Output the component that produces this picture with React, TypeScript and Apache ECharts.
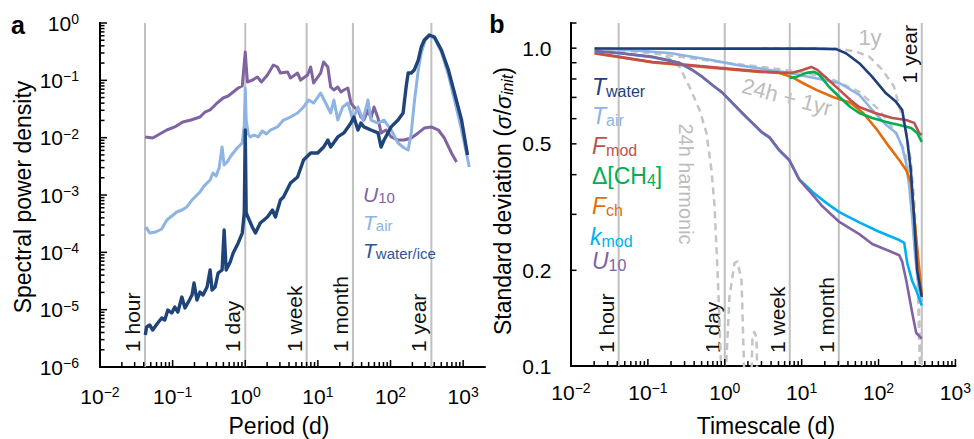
import { useEffect, useRef } from 'react';
import * as echarts from 'echarts';

const FONT = '"Liberation Sans", Arial, Helvetica, sans-serif';

// ---------- Panel a: power spectra, [period (d), spectral power density] ----------
const U10_SPECTRUM: [number, number][] = [
  [0.042, 0.0103], [0.0532, 0.00986], [0.0665, 0.0116], [0.0832, 0.0136], [0.107, 0.0154],
  [0.138, 0.0188], [0.179, 0.0203], [0.238, 0.0229], [0.279, 0.028], [0.328, 0.0304],
  [0.397, 0.0387], [0.496, 0.0492], [0.582, 0.0533], [0.682, 0.0626], [0.8, 0.0735],
  [0.909, 0.0796], [1.0, 0.312], [1.07, 0.0935], [1.25, 0.101], [1.47, 0.114], [1.67, 0.0935],
  [2.02, 0.124], [2.22, 0.151], [2.44, 0.185], [2.77, 0.171], [3.05, 0.134], [3.82, 0.14],
  [4.2, 0.11], [5.25, 0.134], [5.78, 0.101], [7.22, 0.124], [7.95, 0.171], [8.73, 0.0898],
  [10.9, 0.134], [12.0, 0.209], [13.7, 0.171], [15.0, 0.0765], [16.6, 0.0678], [18.8, 0.0765],
  [20.7, 0.0626], [22.8, 0.0678], [25.9, 0.0735], [28.5, 0.0402], [31.3, 0.0343], [35.6, 0.0304],
  [39.2, 0.0229], [43.1, 0.0203], [48.9, 0.0304], [53.8, 0.022], [59.3, 0.0343], [67.3, 0.022],
  [74.1, 0.0121], [86.9, 0.0136], [102, 0.0103], [127, 0.0091], [154, 0.0091], [193, 0.00986],
  [241, 0.0121], [292, 0.0147], [365, 0.0154], [456, 0.0136], [552, 0.00986], [691, 0.0054],
  [811, 0.00376],
];

const TAIR_SPECTRUM: [number, number][] = [
  [0.042, 2.45e-4], [0.0439, 2.66e-4], [0.0483, 2.17e-4], [0.0585, 2.26e-4], [0.0708, 2.55e-4],
  [0.0832, 3.66e-4], [0.0975, 4.3e-4], [0.114, 5.05e-4], [0.134, 5.47e-4], [0.157, 6.18e-4],
  [0.185, 8.19e-4], [0.21, 9.6e-4], [0.238, 1.13e-3], [0.271, 1.43e-3], [0.298, 1.62e-3],
  [0.328, 1.83e-3], [0.36, 2.42e-3], [0.397, 2.14e-3], [0.436, 2.96e-3], [0.48, 6.87e-3],
  [0.512, 3.34e-3], [0.563, 3.76e-3], [0.62, 4.6e-3], [0.682, 5.4e-3], [0.775, 6.6e-3],
  [0.853, 7.45e-3], [0.909, 8.07e-3], [0.969, 0.0166], [1.0, 0.0735], [1.03, 0.0203],
  [1.1, 0.0116], [1.17, 0.0103], [1.33, 0.0111], [1.51, 0.0103], [1.72, 0.0131], [1.95, 0.0116],
  [2.22, 0.0136], [2.77, 0.0154], [3.36, 0.0203], [4.2, 0.0229], [5.25, 0.0269], [6.35, 0.0343],
  [7.46, 0.0454], [8.73, 0.0402], [10.9, 0.0601], [12.8, 0.0402], [15.0, 0.0269], [16.6, 0.0454],
  [18.8, 0.0203], [22.0, 0.0343], [25.9, 0.0402], [30.3, 0.0203], [35.6, 0.0343], [41.7, 0.0203],
  [48.9, 0.0454], [53.8, 0.0203], [67.3, 0.018], [81.5, 0.0203], [102, 0.0136], [127, 8.07e-3],
  [154, 6.6e-3], [175, 6.09e-3], [193, 0.0121], [212, 0.0402], [241, 0.151], [265, 0.3],
  [301, 0.505], [343, 0.593], [402, 0.547], [502, 0.312], [628, 0.124], [760, 0.0454],
  [951, 0.0136], [1215, 3.08e-3],
];

const TWATER_SPECTRUM: [number, number][] = [
  [0.042, 3.61e-6], [0.0439, 4.98e-6], [0.0483, 5.4e-6], [0.0532, 4.42e-6], [0.0624, 5.85e-6],
  [0.0708, 7.15e-6], [0.078, 6.59e-6], [0.0859, 9.86e-6], [0.0975, 8.75e-6], [0.107, 1.11e-5],
  [0.118, 9.1e-6], [0.134, 1.66e-5], [0.148, 1.07e-5], [0.162, 1.31e-5], [0.185, 1.8e-5],
  [0.197, 2.92e-5], [0.216, 1.47e-5], [0.238, 2.03e-5], [0.262, 1.8e-5], [0.298, 2.48e-5],
  [0.328, 4.92e-5], [0.349, 2.2e-5], [0.384, 2.48e-5], [0.423, 4.36e-5], [0.48, 4.92e-5],
  [0.512, 2.45e-4], [0.546, 4.92e-5], [0.62, 6.78e-5], [0.682, 9.73e-5], [0.8, 1.46e-4],
  [0.909, 2.17e-4], [0.969, 4.85e-4], [1.0, 0.0136], [1.03, 4.85e-4], [1.25, 2.77e-4],
  [1.38, 2.17e-4], [1.61, 3.25e-4], [2.02, 4.13e-4], [2.37, 5.47e-4], [2.6, 4.13e-4],
  [3.05, 8.19e-4], [3.36, 9.23e-4], [4.2, 1.62e-3], [5.25, 2.06e-3], [6.35, 4.08e-3],
  [7.95, 5.4e-3], [9.94, 5.4e-3], [12.0, 6.87e-3], [13.7, 9.1e-3], [15.0, 6.87e-3],
  [18.8, 0.0103], [22.8, 0.0121], [28.5, 0.018], [31.3, 0.0229], [35.6, 0.0136], [39.2, 0.018],
  [43.1, 0.0154], [53.8, 0.0136], [67.3, 0.0121], [74.1, 6.87e-3], [81.5, 9.1e-3], [102, 0.0154],
  [127, 0.0203], [149, 0.0269], [164, 0.0765], [175, 0.134], [193, 0.134], [212, 0.151],
  [241, 0.226], [265, 0.381], [292, 0.505], [343, 0.618], [402, 0.57], [502, 0.338],
  [628, 0.151], [760, 0.0601], [951, 0.0203], [1150, 0.005],
];

// ---------- Panel b: normalised standard deviation, [timescale (d), sigma / sigma_init] ----------
const SD_TWATER: [number, number][] = [
  [0.0203, 0.998], [0.05, 0.998], [0.3, 0.997], [3, 0.997], [15, 0.997], [28.2, 0.993],
  [37.7, 0.964], [56.2, 0.897], [82.3, 0.814], [125, 0.721], [168, 0.679], [203, 0.639],
  [236, 0.514], [263, 0.413], [291, 0.288], [318, 0.2], [365, 0.165],
];
const SD_TAIR: [number, number][] = [
  [0.0203, 0.998], [0.043, 0.99], [0.191, 0.966], [0.634, 0.919], [1.42, 0.886], [3.81, 0.854],
  [6.92, 0.836], [12.6, 0.812], [30.9, 0.777], [56.2, 0.713], [82.8, 0.639], [126, 0.573],
  [170, 0.541], [203, 0.489], [229, 0.434], [251, 0.366], [275, 0.29], [300, 0.22],
  [330, 0.18], [365, 0.16],
];
const SD_FMOD: [number, number][] = [
  [0.0203, 0.966], [0.0429, 0.939], [0.115, 0.905], [0.32, 0.886], [0.85, 0.867], [2.82, 0.845],
  [5.13, 0.838], [7.3, 0.836], [10.3, 0.854], [13.3, 0.873], [16, 0.854], [21, 0.806],
  [31, 0.739], [43, 0.687], [56, 0.653], [90, 0.625], [151, 0.603], [229, 0.594], [291, 0.582],
  [338, 0.541], [365, 0.533],
];
const SD_CH4: [number, number][] = [
  [6.92, 0.806], [8.6, 0.812], [11.5, 0.836], [14.6, 0.842], [17, 0.824], [22.8, 0.755],
  [31, 0.702], [43, 0.653], [56, 0.625], [83, 0.603], [126, 0.586], [186, 0.573], [266, 0.561],
  [318, 0.541], [365, 0.507],
];
const SD_FCH: [number, number][] = [
  [0.0203, 0.962], [0.0429, 0.936], [0.115, 0.902], [0.32, 0.883], [0.85, 0.864], [2.82, 0.842],
  [5.13, 0.836], [7.42, 0.812], [10.3, 0.777], [15.5, 0.739], [25.5, 0.702], [43.1, 0.673],
  [63, 0.625], [96, 0.553], [138, 0.489], [186, 0.445], [229, 0.413], [266, 0.376],
  [309, 0.254], [365, 0.167],
];
const SD_KMOD: [number, number][] = [
  [0.0203, 0.978], [0.0429, 0.964], [0.115, 0.937], [0.175, 0.917], [0.258, 0.897],
  [0.381, 0.852], [0.514, 0.81], [0.692, 0.764], [0.933, 0.723], [1.26, 0.671], [1.7, 0.623],
  [2.29, 0.58], [3.08, 0.541], [3.81, 0.523], [5.13, 0.476], [6.92, 0.443], [9.34, 0.386],
  [14, 0.352], [20.9, 0.326], [30.9, 0.305], [56.2, 0.283], [100, 0.265], [186, 0.249],
  [216, 0.244], [236, 0.211], [274, 0.185], [309, 0.173], [365, 0.155],
];
const SD_U10: [number, number][] = [
  [0.0203, 0.98], [0.0429, 0.966], [0.115, 0.939], [0.175, 0.919], [0.258, 0.899],
  [0.381, 0.854], [0.514, 0.812], [0.692, 0.766], [0.933, 0.725], [1.26, 0.673], [1.7, 0.625],
  [2.29, 0.582], [3.08, 0.543], [3.81, 0.525], [5.13, 0.478], [6.92, 0.445], [9.34, 0.385],
  [14, 0.345], [18.6, 0.318], [30.9, 0.284], [56.2, 0.26], [82.8, 0.242], [138, 0.23],
  [186, 0.223], [203, 0.213], [229, 0.186], [274, 0.147], [309, 0.127], [365, 0.122],
];
const SD_ONE_YEAR: [number, number][] = [
  [3, 0.999], [15, 0.997], [30.9, 0.995], [50.5, 0.976], [75.7, 0.941], [112, 0.854],
  [159, 0.757], [186, 0.655], [226, 0.553], [263, 0.445], [291, 0.333], [309, 0.249],
  [328, 0.173], [348, 0.121], [357, 0.09],
];
const SD_DAILY_HARMONIC: [number, number][] = [
  [0.0203, 0.999], [0.043, 0.995], [0.105, 0.98], [0.165, 0.953], [0.258, 0.873],
  [0.348, 0.755], [0.47, 0.639], [0.578, 0.541], [0.671, 0.414], [0.735, 0.321], [0.804, 0.2],
  [0.853, 0.139], [0.906, 0.09], [1.02, 0.09], [1.15, 0.165], [1.34, 0.211], [1.46, 0.213],
  [1.65, 0.186], [1.7, 0.147], [1.8, 0.09], [2.22, 0.09], [2.29, 0.123], [2.43, 0.128],
  [2.58, 0.123], [2.66, 0.09],
];
const SD_DAILY_PLUS_YEAR: [number, number][] = [
  [0.0203, 0.995], [0.078, 0.973], [0.258, 0.939], [0.853, 0.905], [3.81, 0.867], [9.34, 0.842],
  [22.9, 0.806], [56.2, 0.729], [102, 0.639], [160, 0.553], [216, 0.478], [266, 0.385],
  [300, 0.268], [328, 0.161], [348, 0.09],
];

// Reference periods marked by vertical guides
const GUIDE_PERIODS = [1 / 24, 1, 7, 30.4, 365];
const GUIDE_NAMES = ['1 hour', '1 day', '1 week', '1 month', '1 year'];
const A_GUIDE_AT_TOP = [false, false, false, false, false];
const B_GUIDE_AT_TOP = [false, false, false, false, true];

// Axis ranges and tick labels
const A_X_RANGE = [0.01, 2000];
const A_Y_RANGE = [1e-6, 1];
const B_X_RANGE = [0.01, 1000];
const B_Y_RANGE = [0.1, 1.2];
const B_Y_TICKS = [0.2, 0.3, 0.4, 0.5, 0.6, 0.7, 0.8, 0.9, 1.0, 1.2];
const B_Y_LABEL_VALUES = [0.1, 0.2, 0.5, 1.0];
const B_Y_LABEL_TEXTS = ['0.1', '0.2', '0.5', '1.0'];

const C = {
  aPurple: '#8064a2',
  aLight: '#8db4e2',
  aDark: '#1f4479',
  twater: '#1f3f7a',
  tair: '#8db4e2',
  fmod: '#c0504d',
  ch4: '#00b050',
  fch: '#e46c0a',
  kmod: '#00b0f0',
  u10: '#8064a2',
  dash: '#c4c4c4',
  guide: '#c0c0c0',
};

// log tick positions (1..9 per decade) between lo and hi
function logTicks(lo: number, hi: number): number[] {
  const out: number[] = [];
  for (let e = Math.floor(Math.log10(lo)); e <= Math.ceil(Math.log10(hi)); e++) {
    for (let m = 1; m <= 9; m++) {
      const v = m * Math.pow(10, e);
      if (v >= lo * 0.999 && v <= hi * 1.001) out.push(v);
    }
  }
  return out;
}

function isDecade(v: number) {
  const e = Math.log10(v);
  return Math.abs(e - Math.round(e)) < 1e-6;
}

const POW_RICH = {
  b: { fontSize: 21, lineHeight: 22, fontFamily: FONT, color: '#000' },
  s: { fontSize: 14, lineHeight: 14, verticalAlign: 'top', fontFamily: FONT, color: '#000' },
};

function powerLabel(v: number): string {
  const e = Math.log10(v);
  const r = Math.round(e);
  if (Math.abs(e - r) > 1e-6) return '';
  const exp = r < 0 ? '\u2212' + -r : String(r);
  return `{b|10}{s|${exp}}`;
}

function txt(text: string, extra: any = {}) {
  const align = extra.align || 'center';
  const va = extra.verticalAlign || 'middle';
  return {
    text,
    fill: '#000',
    fontSize: 21,
    fontFamily: FONT,
    ...extra,
    align,
    verticalAlign: va,
    textAlign: align,
    textVerticalAlign: va,
  };
}

interface PanelFrame {
  xLo: number;
  yLo: number;
  yHi: number;
  atTop: boolean[];
  gap: number;
  yLabels?: { values: number[]; texts: string[] };
}

// Vertical guides with their names (and optional y labels), placed via api.coord
function frameSeries(idx: number, f: PanelFrame) {
  return {
    type: 'custom',
    xAxisIndex: idx,
    yAxisIndex: idx,
    silent: true,
    clip: false,
    z: 1,
    data: GUIDE_PERIODS.map((v) => [v, f.yLo]),
    renderItem: (params: any, api: any) => {
      const v = api.value(0);
      const b = api.coord([v, f.yLo]);
      const t = api.coord([v, f.yHi]);
      const top = f.atTop[params.dataIndex];
      const children: any[] = [
        {
          type: 'line',
          shape: { x1: b[0], y1: b[1], x2: t[0], y2: t[1] },
          style: { stroke: C.guide, lineWidth: 2 },
        },
        {
          type: 'text',
          x: b[0] - 12.5,
          y: top ? t[1] + 2 : b[1] - f.gap,
          rotation: Math.PI / 2,
          style: txt(GUIDE_NAMES[params.dataIndex], { align: top ? 'right' : 'left', fill: '#111' }),
        },
      ];
      if (params.dataIndex === 0 && f.yLabels) {
        f.yLabels.values.forEach((lv, i) => {
          const p = api.coord([f.xLo, lv]);
          children.push({
            type: 'text',
            x: p[0] - 19.5,
            y: p[1],
            style: txt(f.yLabels!.texts[i], { align: 'right' }),
          });
        });
      }
      return { type: 'group', children };
    },
  };
}

function lineSeries(xi: number, data: [number, number][], color: string, width: number, z: number, dashed = false) {
  return {
    type: 'line',
    xAxisIndex: xi,
    yAxisIndex: xi,
    data,
    showSymbol: false,
    symbol: 'none',
    silent: true,
    clip: true,
    z,
    lineStyle: { color, width, type: dashed ? [7, 5] : 'solid', cap: 'butt', join: 'round' },
  };
}

function legendText(x: number, y: number, rich: string, color: string, base: number, sub: number, lh: number, italic = true) {
  return {
    type: 'text',
    x,
    y,
    silent: true,
    z: 50,
    style: txt(rich, {
      align: 'left',
      fill: color,
      rich: {
        i: { fontStyle: italic ? 'italic' : 'normal', fontSize: base, lineHeight: lh, fontFamily: FONT, fill: color, color },
        n: { fontSize: base, lineHeight: lh, fontFamily: FONT, fill: color, color },
        s: { fontSize: sub, lineHeight: sub, verticalAlign: 'bottom', fontFamily: FONT, fill: color, color },
      },
    }),
  };
}

function baseGraphics(): any[] {
  return [
    // panel letters
    { type: 'text', x: 18, y: 25, silent: true, style: txt('a', { fontSize: 25, fontWeight: 'bold' }) },
    { type: 'text', x: 497, y: 24, silent: true, style: txt('b', { fontSize: 25, fontWeight: 'bold' }) },
    // axis titles
    { type: 'text', x: 23, y: 197, rotation: Math.PI / 2, silent: true, style: txt('Spectral power density', { fontSize: 23 }) },
    { type: 'text', x: 279, y: 426, silent: true, style: txt('Period (d)', { fontSize: 23 }) },
    { type: 'text', x: 766, y: 426, silent: true, style: txt('Timescale (d)', { fontSize: 23 }) },
    {
      type: 'text', x: 503, y: 201, rotation: Math.PI / 2, silent: true,
      style: txt('{n|Standard deviation (}{i|\u03c3}{n|/}{i|\u03c3}{s|init}{n|)}', {
        rich: {
          n: { fontSize: 23, lineHeight: 25, fontFamily: FONT, fill: '#000' },
          i: { fontSize: 23, lineHeight: 25, fontStyle: 'italic', fontFamily: FONT, fill: '#000' },
          s: { fontSize: 16, lineHeight: 16, fontStyle: 'italic', verticalAlign: 'bottom', fontFamily: FONT, fill: '#000' },
        },
      }),
    },
    // panel a key
    legendText(363, 194, '{i|U}{s|10}', C.aPurple, 21, 15, 22),
    legendText(363, 222, '{i|T}{s|air}', C.aLight, 21, 15, 22),
    legendText(363, 250, '{i|T}{s|water/ice}', '#2c5596', 21, 15, 22),
    // panel b key
    legendText(592, 86.5, '{i|T}{s|water}', C.twater, 23, 16, 25),
    legendText(592, 116, '{i|T}{s|air}', C.tair, 23, 16, 25),
    legendText(592, 146, '{i|F}{s|mod}', C.fmod, 23, 16, 25),
    legendText(592, 176, '{n|\u0394[CH}{s|4}{n|]}', C.ch4, 23, 16, 25, false),
    legendText(592, 206, '{i|F}{s|ch}', C.fch, 23, 16, 25),
    legendText(590, 236.5, '{i|k}{s|mod}', C.kmod, 23, 16, 25),
    legendText(592, 261, '{i|U}{s|10}', C.u10, 23, 16, 25),
    // annotations for the reference curves
    { type: 'text', x: 870, y: 37, silent: true, style: txt('1y', { fill: '#bdbdbd', fontSize: 22 }) },
    { type: 'text', x: 787, y: 97, rotation: -0.26, silent: true, style: txt('24h + 1yr', { fill: '#bdbdbd', fontSize: 22 }) },
    { type: 'text', x: 686, y: 184, rotation: -Math.PI / 2, silent: true, style: txt('24h harmonic', { fill: '#bdbdbd', fontSize: 20 }) },
  ];
}

function buildOption(): any {
  const axisLine = { show: true, onZero: false, lineStyle: { color: '#000', width: 2 } };
  const none = { show: false };
  return {
    animation: false,
    backgroundColor: '#fff',
    grid: [
      { left: 100, top: 23, width: 385, height: 344 },
      { left: 571, top: 23, width: 385, height: 343 },
    ],
    xAxis: [
      {
        type: 'log', gridIndex: 0, min: A_X_RANGE[0], max: A_X_RANGE[1],
        axisLine, axisTick: none, minorTick: none, splitLine: none, minorSplitLine: none,
        axisLabel: { margin: 18, formatter: powerLabel, rich: POW_RICH, showMaxLabel: false },
      },
      {
        type: 'log', gridIndex: 1, min: B_X_RANGE[0], max: B_X_RANGE[1],
        axisLine, axisTick: none, minorTick: none, splitLine: none, minorSplitLine: none,
        axisLabel: { margin: 15, formatter: powerLabel, rich: POW_RICH },
      },
    ],
    yAxis: [
      {
        type: 'log', gridIndex: 0, min: A_Y_RANGE[0], max: A_Y_RANGE[1],
        axisLine, axisTick: none, minorTick: none, splitLine: none, minorSplitLine: none,
        axisLabel: { margin: 21, formatter: powerLabel, rich: POW_RICH },
      },
      {
        type: 'log', gridIndex: 1, min: B_Y_RANGE[0], max: B_Y_RANGE[1],
        axisLine, axisTick: none, minorTick: none, splitLine: none, minorSplitLine: none,
        axisLabel: none,
      },
    ],
    series: [
      frameSeries(0, {
        xLo: A_X_RANGE[0], yLo: A_Y_RANGE[0], yHi: A_Y_RANGE[1], atTop: A_GUIDE_AT_TOP, gap: 15,
      }),
      frameSeries(1, {
        xLo: B_X_RANGE[0], yLo: B_Y_RANGE[0], yHi: B_Y_RANGE[1], atTop: B_GUIDE_AT_TOP, gap: 13,
        yLabels: { values: B_Y_LABEL_VALUES, texts: B_Y_LABEL_TEXTS },
      }),

      lineSeries(0, U10_SPECTRUM, C.aPurple, 3, 3),
      lineSeries(0, TAIR_SPECTRUM, C.aLight, 3, 4),
      lineSeries(0, TWATER_SPECTRUM, C.aDark, 3.4, 5),

      lineSeries(1, SD_DAILY_HARMONIC, C.dash, 2.5, 2, true),
      lineSeries(1, SD_ONE_YEAR, C.dash, 2.5, 2, true),
      lineSeries(1, SD_DAILY_PLUS_YEAR, C.dash, 2.5, 2, true),
      lineSeries(1, SD_TAIR, C.tair, 2.6, 3),
      lineSeries(1, SD_FCH, C.fch, 2.6, 3),
      lineSeries(1, SD_FMOD, C.fmod, 2.6, 3),
      lineSeries(1, SD_CH4, C.ch4, 2.6, 3),
      lineSeries(1, SD_KMOD, C.kmod, 2.6, 3),
      lineSeries(1, SD_U10, C.u10, 2.6, 3),
      lineSeries(1, SD_TWATER, C.twater, 2.6, 4),
    ],
    graphic: baseGraphics(),
  };
}

// Tick marks, positioned through the axes' own scales once the chart is laid out
function tickGraphics(chart: echarts.ECharts): any[] {
  const out: any[] = [];
  const mark = (x1: number, y1: number, x2: number, y2: number) =>
    out.push({
      type: 'line',
      silent: true,
      z: 40,
      shape: { x1, y1, x2, y2 },
      style: { stroke: '#000', lineWidth: 1.5 },
    });
  const xPix = (i: number, v: number) => chart.convertToPixel({ xAxisIndex: i } as any, v) as unknown as number;
  const yPix = (i: number, v: number) => chart.convertToPixel({ yAxisIndex: i } as any, v) as unknown as number;

  const panels = [
    { i: 0, xt: logTicks(A_X_RANGE[0], 1000), yt: logTicks(A_Y_RANGE[0], A_Y_RANGE[1]), x0: A_X_RANGE[0], y0: A_Y_RANGE[0], yFixed: 0 },
    { i: 1, xt: logTicks(B_X_RANGE[0], B_X_RANGE[1]), yt: B_Y_TICKS, x0: B_X_RANGE[0], y0: B_Y_RANGE[0], yFixed: 5.5 },
  ];
  panels.forEach((p) => {
    const baseY = yPix(p.i, p.y0);
    const baseX = xPix(p.i, p.x0);
    p.xt.forEach((v) => {
      const x = xPix(p.i, v);
      mark(x, baseY, x, baseY - (isDecade(v) ? 7 : 5));
    });
    p.yt.forEach((v) => {
      const y = yPix(p.i, v);
      const len = p.yFixed || (isDecade(v) ? 7 : 4.5);
      mark(baseX - 1, y, baseX + len, y);
    });
  });
  return out;
}

export default function App() {
  const ref = useRef<HTMLDivElement>(null);
  useEffect(() => {
    if (!ref.current) return;
    const chart = echarts.init(ref.current, undefined, { renderer: 'svg' });
    chart.setOption(buildOption());
    chart.setOption({ graphic: [...baseGraphics(), ...tickGraphics(chart)] });
    return () => chart.dispose();
  }, []);
  return (
    <div
      ref={ref}
      style={{ position: 'fixed', left: 0, top: 0, width: 974, height: 439, background: '#fff' }}
    />
  );
}
